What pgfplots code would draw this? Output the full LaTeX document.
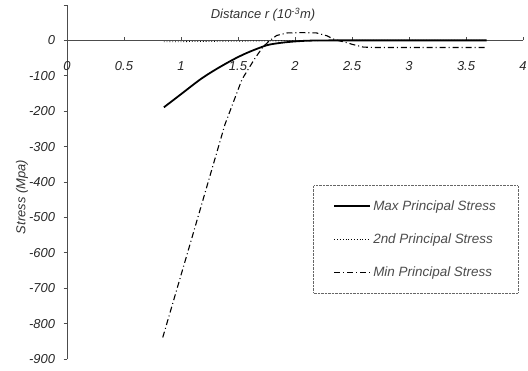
\documentclass[border=0pt]{standalone}
\usepackage{fontspec}
\setmainfont{Liberation Sans}
\usepackage{pgfplots}
\pgfplotsset{compat=1.18}
\begin{document}
\begin{tikzpicture}
\useasboundingbox (0,0) rectangle (528bp,371bp);
\begin{axis}[
  at={(67bp,12bp)}, anchor=south west,
  scale only axis, width=456bp, height=354bp,
  xmin=0, xmax=4, ymin=-900, ymax=100,
  axis x line=middle, axis y line=left,
  axis line style={-, black!70, line width=0.8pt},
  hide obscured x ticks=false,
  xtick={0,0.5,...,4},
  ytick={-900,-800,...,0},
  extra y ticks={100}, extra y tick labels={},
  xticklabels={0,0.5,1,1.5,2,2.5,3,3.5,4},
  /pgf/number format/assume math mode=true,
  ticklabel style={font=\fontsize{13}{15}\selectfont\itshape, text=black!85},
  xticklabel style={yshift=-18pt},
  yticklabel style={xshift=-5pt},
  tick style={black!70, line width=0.6pt},
  major tick length=3.5pt,
  ytick align=outside,
  xtick align=inside,
  clip=false,
  legend style={at={(0.989,0.186)}, anchor=south east, draw=black!60, densely dotted,
    font=\fontsize{13.5}{15}\selectfont\itshape, text=black!70,
    row sep=18pt, inner xsep=20pt, inner ysep=13pt, cells={anchor=west}},
  legend cell align=left,
  legend image code/.code={\draw[#1] (0bp,0bp) -- (36bp,0bp);},
]
\addlegendimage{black, line width=1.8pt, solid}
\addlegendentry{Max Principal Stress}
\addlegendimage{black, line width=0.8pt, dotted}
\addlegendentry{2nd Principal Stress}
\addlegendimage{black, line width=1.1pt, dash pattern=on 6pt off 3pt on 1pt off 3pt}
\addlegendentry{Min Principal Stress}
\addplot[black, line width=1.8pt, smooth, solid, forget plot] coordinates {
 (0.85,-189) (1.0,-152) (1.17,-110) (1.3,-83) (1.43,-59) (1.52,-44) (1.61,-31)
 (1.75,-14) (1.85,-8) (1.96,-4) (2.1,-1) (2.3,0) (2.6,0) (3.0,0) (3.68,0)};
\addplot[black, line width=0.8pt, dotted, forget plot] coordinates {
 (0.85,-4) (1.2,-3) (1.6,-2) (2.0,-1) (2.5,0) (3.0,0) (3.68,0)};
\addplot[black, line width=1.1pt, dash pattern=on 6pt off 3pt on 1pt off 3pt, forget plot] coordinates {
 (0.84,-839) (1.1,-553) (1.386,-237) (1.535,-110) (1.65,-50) (1.72,-18) (1.78,0) (1.84,14) (1.93,21)
 (2.05,22) (2.19,21) (2.28,13) (2.35,2) (2.45,-6) (2.5,-11) (2.6,-19) (2.7,-20) (3.0,-20) (3.68,-20)};
\end{axis}
\node[font=\fontsize{13}{15}\selectfont\itshape, text=black!80] at (263bp,356bp) {Distance r (10\textsuperscript{-3}m)};
\node[font=\fontsize{13}{15}\selectfont\itshape, text=black!80, rotate=90] at (22bp,174bp) {Stress (Mpa)};
\end{tikzpicture}
\end{document}
